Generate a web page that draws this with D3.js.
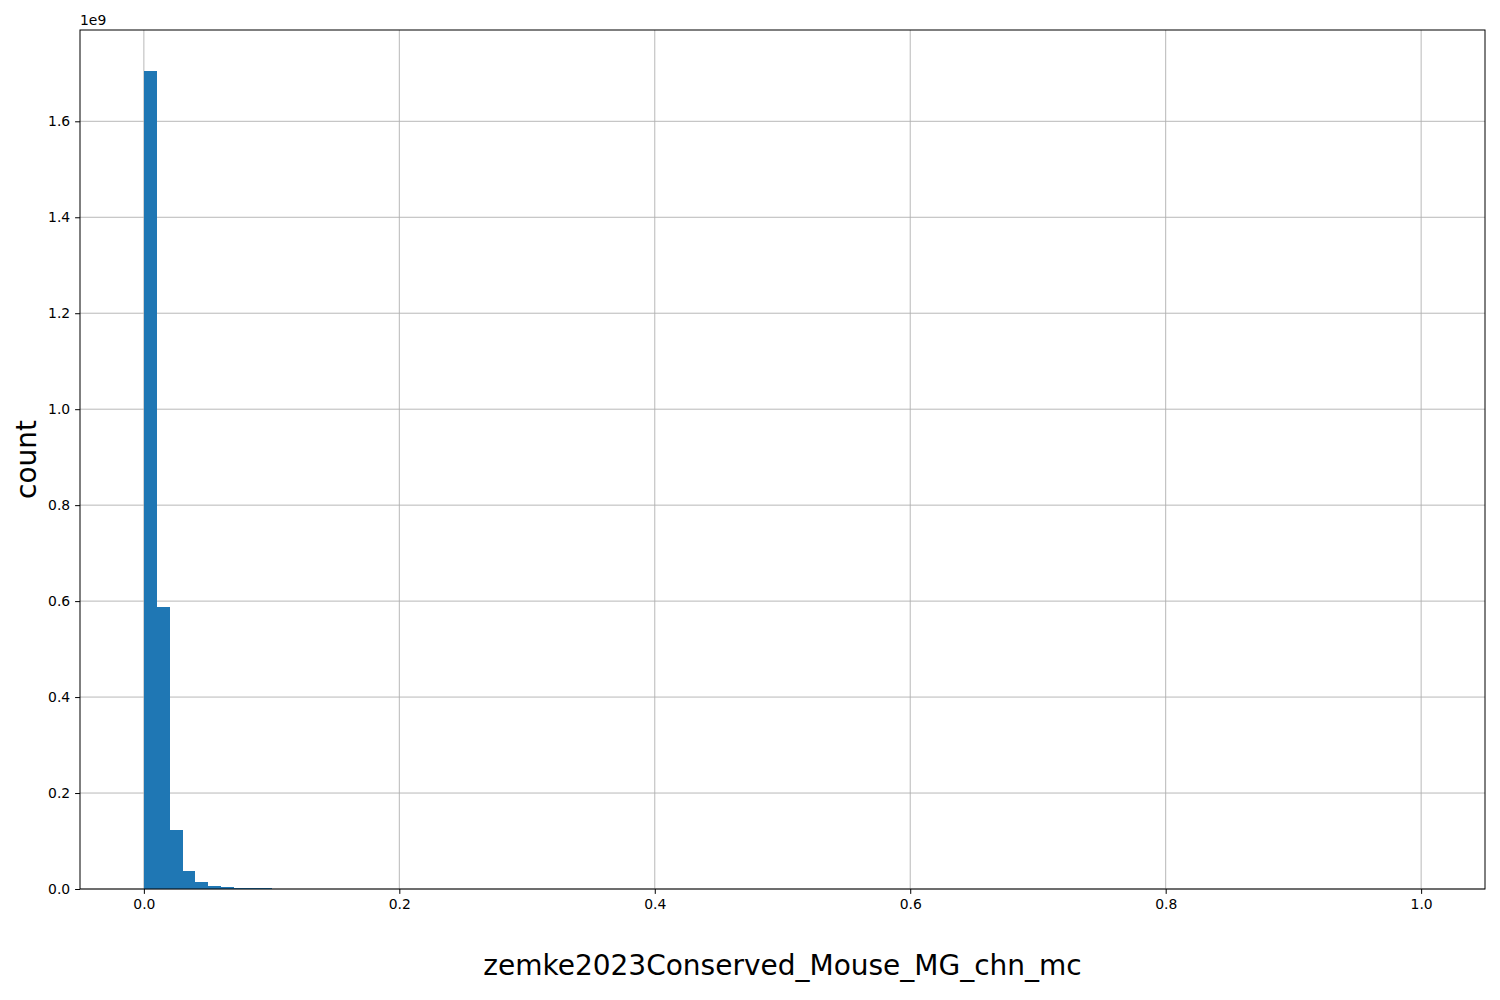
<!DOCTYPE html>
<html><head><meta charset="utf-8">
<script src="https://cdn.jsdelivr.net/npm/d3@7"></script>
<style>body{margin:0;background:#fff}svg{display:block}text{font-family:"DejaVu Sans",sans-serif}</style>
</head><body>
<script>
// Histogram: 100 bins of width 0.01 from 0 to 1; counts in units of 1e9
const binStart = 0, binWidth = 0.01, binCount = 100;
const firstCounts = [1.705, 0.5875, 0.123, 0.0375, 0.0146, 0.0069, 0.0042, 0.0025, 0.002, 0.0016];
const counts = firstCounts.concat(new Array(binCount - firstCounts.length).fill(0));
const xTicks = [0.0, 0.2, 0.4, 0.6, 0.8, 1.0];
const yTicks = [0.0, 0.2, 0.4, 0.6, 0.8, 1.0, 1.2, 1.4, 1.6];
const xLabel = "zemke2023Conserved_Mouse_MG_chn_mc";
const yLabel = "count";
const offsetLabel = "1e9";

const W = 1500, H = 1000;
const m = {left: 80, right: 15, top: 30, bottom: 111};
const svg = d3.select("body").append("svg").attr("width", W).attr("height", H);
const x = d3.scaleLinear().domain([-0.05, 1.05]).range([m.left, W - m.right]);
const y = d3.scaleLinear().domain([0, 1.7903]).range([H - m.bottom, m.top]);

const g = svg.append("g");
// grid
g.selectAll(".gx").data(xTicks).join("line")
  .attr("x1", d => x(d)).attr("x2", d => x(d)).attr("y1", m.top).attr("y2", H - m.bottom)
  .attr("stroke", "#b0b0b0").attr("stroke-width", 0.9);
g.selectAll(".gy").data(yTicks).join("line")
  .attr("x1", m.left).attr("x2", W - m.right).attr("y1", d => y(d)).attr("y2", d => y(d))
  .attr("stroke", "#b0b0b0").attr("stroke-width", 0.9);

// bars
g.selectAll("rect.bar").data(counts).join("rect").attr("class", "bar")
  .attr("x", (d, i) => x(binStart + i * binWidth))
  .attr("width", (d, i) => x(binStart + (i + 1) * binWidth) - x(binStart + i * binWidth) + 0.4)
  .attr("y", d => y(d)).attr("height", d => y(0) - y(d))
  .attr("fill", "#1f77b4").attr("shape-rendering", "crispEdges");

// axes
const xAxis = d3.axisBottom(x).tickValues(xTicks).tickFormat(d3.format(".1f")).tickSize(4.9).tickPadding(4.9);
const yAxis = d3.axisLeft(y).tickValues(yTicks).tickFormat(d3.format(".1f")).tickSize(4.9).tickPadding(4.9);
const ax = svg.append("g").attr("transform", `translate(0,${H - m.bottom})`).call(xAxis);
const ay = svg.append("g").attr("transform", `translate(${m.left},0)`).call(yAxis);
[ax, ay].forEach(a => {
  a.select(".domain").remove();
  a.selectAll("line").attr("stroke", "#000").attr("stroke-width", 1);
  a.selectAll("text").attr("font-size", 13.9).attr("fill", "#000").attr("font-family", "DejaVu Sans");
});
// frame
svg.append("rect").attr("x", m.left).attr("y", m.top).attr("width", W - m.left - m.right)
  .attr("height", H - m.top - m.bottom).attr("fill", "none").attr("stroke", "#000").attr("stroke-width", 1);

svg.append("text").attr("x", m.left).attr("y", m.top - 5).attr("font-size", 13.9).text(offsetLabel);
svg.append("text").attr("x", (m.left + W - m.right) / 2).attr("y", 975).attr("text-anchor", "middle")
  .attr("font-size", 28).text(xLabel);
svg.append("text").attr("transform", `translate(36,${(m.top + H - m.bottom) / 2}) rotate(-90)`)
  .attr("text-anchor", "middle").attr("font-size", 28).text(yLabel);
</script>
</body></html>
